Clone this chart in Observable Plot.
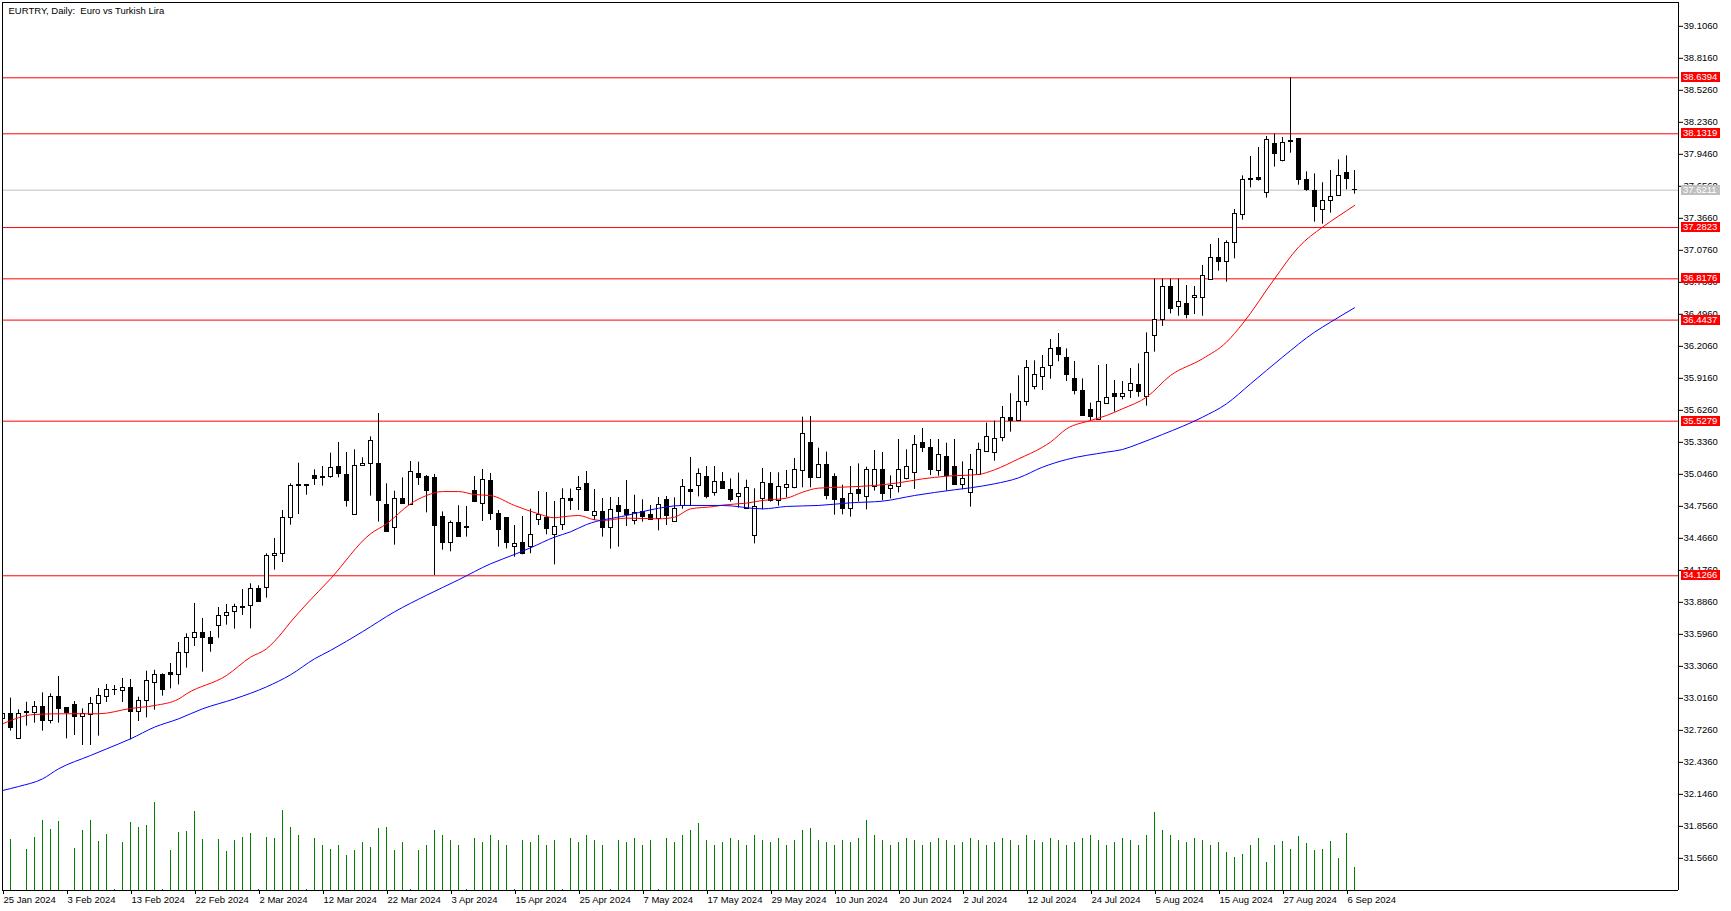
<!DOCTYPE html>
<html><head><meta charset="utf-8">
<script src="https://cdn.jsdelivr.net/npm/d3@7"></script>
<script src="https://cdn.jsdelivr.net/npm/@observablehq/plot@0.6"></script>
<style>
html,body{margin:0;padding:0;background:#fff;overflow:hidden;}
#wrap{position:relative;width:1731px;height:911px;overflow:hidden;}
#wrap svg{position:absolute;left:0;top:0;}
</style></head><body><div id="wrap"></div>
<script>
const title = "EURTRY, Daily:  Euro vs Turkish Lira";
const open = [32.827,32.870,32.649,32.894,32.885,32.942,32.812,33.030,32.924,32.957,32.848,32.867,32.966,33.030,33.090,33.084,33.114,32.891,32.993,33.154,33.232,33.247,33.226,33.428,33.564,33.610,33.567,33.673,33.764,33.800,33.848,33.854,34.008,34.017,34.304,34.326,34.652,34.951,34.948,35.032,35.023,35.020,35.114,35.042,34.679,35.123,35.141,35.144,34.770,34.561,34.824,34.770,35.045,35.026,35.014,34.655,34.425,34.607,34.570,34.899,34.779,34.990,34.688,34.646,34.389,34.428,34.386,34.631,34.646,34.498,34.588,34.827,34.906,34.954,34.667,34.709,34.561,34.755,34.727,34.622,34.709,34.682,34.637,34.809,34.613,34.761,34.900,34.942,35.026,34.875,34.981,34.900,34.842,34.733,34.489,34.818,34.954,34.803,34.924,34.924,35.078,35.332,35.014,35.135,35.023,34.818,34.733,34.900,34.839,34.927,35.087,34.912,34.933,35.008,35.057,35.332,35.286,35.075,35.205,35.117,34.948,34.878,35.041,35.247,35.238,35.374,35.558,35.531,35.700,35.839,35.930,36.026,36.192,36.096,35.914,35.803,35.630,35.540,35.685,35.778,35.745,35.803,35.860,35.745,36.301,36.446,36.748,36.561,36.591,36.645,36.645,36.809,37.002,36.972,37.144,37.392,37.718,37.727,37.597,38.041,37.887,38.071,38.086,37.715,37.618,37.443,37.524,37.570,37.778,37.624];
const high = [32.906,33.018,32.912,32.981,32.987,33.066,33.057,33.214,32.924,32.987,32.921,33.024,33.105,33.141,33.132,33.196,33.187,33.027,33.262,33.271,33.238,33.332,33.522,33.601,33.876,33.740,33.622,33.839,33.866,33.869,34.002,34.054,34.036,34.326,34.465,34.718,34.960,35.147,34.948,35.087,35.117,35.238,35.335,35.244,35.268,35.196,35.386,35.597,34.960,34.893,35.014,35.162,35.156,35.035,35.045,34.706,34.622,34.761,34.755,35.026,35.090,35.054,34.718,34.646,34.582,34.664,34.730,34.890,34.881,34.800,34.915,34.912,35.026,35.072,34.909,34.827,34.836,34.836,34.990,34.857,34.815,34.764,34.836,34.845,34.833,34.999,35.199,35.096,35.117,35.117,35.063,35.005,35.057,34.993,34.915,35.099,35.063,35.060,35.081,35.190,35.564,35.570,35.283,35.247,35.051,34.948,35.117,35.141,35.111,35.262,35.244,35.032,35.362,35.268,35.398,35.461,35.362,35.362,35.328,35.362,35.159,35.226,35.328,35.510,35.528,35.661,35.776,35.939,36.078,36.075,36.123,36.268,36.322,36.183,36.069,35.911,35.691,36.032,36.041,35.896,35.887,36.005,36.047,36.328,36.815,36.815,36.815,36.815,36.757,36.748,36.939,37.129,37.183,37.162,37.446,37.751,37.926,38.008,38.107,38.129,38.098,38.639,38.086,37.787,37.769,37.688,37.799,37.896,37.932,37.799];
const low = [32.800,32.719,32.649,32.764,32.791,32.719,32.785,32.791,32.649,32.679,32.589,32.589,32.673,32.978,33.042,32.978,32.640,32.806,32.839,32.909,33.036,33.102,33.138,33.290,33.486,33.253,33.434,33.561,33.679,33.643,33.767,33.646,33.888,33.924,34.178,34.247,34.585,34.682,34.857,34.945,34.939,35.011,35.014,34.749,34.679,35.117,34.848,34.613,34.519,34.404,34.776,34.770,34.945,34.697,34.129,34.359,34.344,34.477,34.477,34.794,34.619,34.628,34.386,34.371,34.295,34.317,34.326,34.582,34.498,34.226,34.537,34.718,34.718,34.709,34.628,34.477,34.368,34.386,34.573,34.588,34.613,34.634,34.534,34.582,34.613,34.730,34.761,34.842,34.824,34.848,34.909,34.794,34.740,34.733,34.416,34.724,34.794,34.758,34.833,34.915,34.924,34.924,35.014,34.815,34.676,34.679,34.658,34.794,34.724,34.894,34.806,34.824,34.878,34.996,34.909,35.244,35.035,35.029,34.894,34.948,34.906,34.749,35.041,35.247,35.165,35.341,35.428,35.531,35.664,35.812,35.806,35.908,36.066,35.887,35.766,35.579,35.531,35.534,35.685,35.609,35.721,35.733,35.745,35.664,36.153,36.386,36.500,36.479,36.455,36.494,36.479,36.803,36.887,36.788,36.999,37.349,37.642,37.703,37.549,37.830,37.878,37.956,37.666,37.612,37.331,37.313,37.413,37.570,37.624,37.585];
const close = [32.870,32.749,32.870,32.882,32.939,32.809,33.030,32.921,32.882,32.845,32.870,32.966,33.039,33.096,33.096,33.111,32.891,32.993,33.169,33.232,33.093,33.226,33.431,33.564,33.610,33.561,33.507,33.764,33.791,33.848,33.836,34.008,33.888,34.307,34.326,34.652,34.942,34.939,34.942,35.005,35.014,35.105,35.048,34.803,35.123,35.144,35.350,34.803,34.519,34.824,34.776,35.069,35.011,34.896,34.576,34.422,34.607,34.477,34.564,34.794,34.996,34.685,34.543,34.422,34.416,34.323,34.498,34.679,34.549,34.570,34.824,34.806,34.924,34.712,34.709,34.558,34.727,34.703,34.682,34.700,34.655,34.634,34.770,34.664,34.733,34.933,34.888,35.045,34.839,34.981,34.912,34.809,34.872,34.924,34.749,34.963,34.800,34.933,34.951,35.087,35.407,35.011,35.132,34.848,34.812,34.733,34.869,34.869,35.087,35.081,34.866,34.936,35.087,35.114,35.316,35.283,35.081,35.223,35.035,34.948,35.005,35.087,35.268,35.386,35.368,35.558,35.525,35.703,36.011,35.948,36.011,36.183,36.126,35.945,35.803,35.579,35.567,35.703,35.739,35.745,35.778,35.866,35.791,36.144,36.446,36.748,36.543,36.609,36.491,36.664,36.845,37.008,36.969,37.138,37.407,37.715,37.709,37.715,38.077,37.950,38.050,38.059,37.709,37.624,37.470,37.524,37.561,37.751,37.724,37.621];
const volume = [0,5100,0,4100,5300,7000,6100,6900,0,4200,6000,7000,4900,5600,100,4800,6800,6300,6500,8800,100,4000,5800,5900,7900,5100,0,5100,3900,5000,5300,5700,100,5300,5200,8000,6300,5500,100,5200,4500,4100,4500,3500,4000,4800,4300,6200,6300,4000,
4800,100,4000,4500,6000,5500,5000,4500,100,5200,4800,5500,5000,4500,100,5000,4800,5500,4500,5000,100,5200,4800,5500,5000,4500,100,5000,4800,5200,4500,5000,100,5200,4800,5500,6000,6700,5000,4500,4800,5200,5000,4500,5500,5000,4800,5200,4500,5000,6000,6200,5000,4800,4500,5000,4800,5200,7000,5500,5000,4500,4800,5200,5000,4500,4800,5200,5000,4500,4800,5200,5000,4500,4800,5200,5000,4500,5500,5000,4800,5200,5000,4500,4800,5200,5500,5000,4500,4800,5200,5000,4500,5500,7800,6000,5500,5000,4800,5200,5000,4500,4800,
3800,3300,3600,4500,5200,2800,4500,4900,4100,5400,4700,4000,4100,4900,3200,5700,2300];
const maRedIdx = [0,4,7,12,16,19,22,23,28,31,33,35,36,38,41,46,48,51,53,55,57,59,61,64,67,69,70,72,74,75,78,82,84,86,89,90,93,95,98,100,102,105,109,112,115,118,122,124,127,130,131,133,136,138,140,143,146,150,153,155,159,162,165,167,169];
const maRedVal = [32.785,32.870,32.876,32.876,32.924,32.951,33.009,33.057,33.223,33.389,33.465,33.616,33.707,33.870,34.099,34.507,34.597,34.779,34.854,34.890,34.890,34.863,34.854,34.764,34.688,34.652,34.661,34.673,34.634,34.628,34.649,34.643,34.658,34.733,34.755,34.767,34.785,34.809,34.830,34.884,34.921,34.930,34.945,34.969,35.005,35.029,35.045,35.087,35.186,35.292,35.338,35.458,35.534,35.579,35.640,35.745,35.942,36.093,36.244,36.410,36.818,37.105,37.286,37.386,37.482];
const maBlueIdx = [0,2,5,7,11,13,16,19,22,25,29,33,36,39,41,45,49,53,57,61,64,66,69,71,73,78,81,85,90,95,98,102,106,110,114,119,121,124,127,130,133,138,140,142,145,150,153,156,160,164,166,169];
const maBlueVal = [32.181,32.217,32.286,32.377,32.498,32.558,32.649,32.755,32.830,32.921,33.011,33.120,33.229,33.374,33.450,33.620,33.800,33.950,34.090,34.235,34.320,34.380,34.477,34.525,34.591,34.673,34.724,34.764,34.764,34.733,34.755,34.764,34.788,34.803,34.854,34.906,34.924,34.960,35.014,35.111,35.180,35.247,35.271,35.322,35.407,35.564,35.685,35.866,36.108,36.334,36.425,36.555];
const levels = [38.6394, 38.1319, 37.2823, 36.8176, 36.4437, 35.5279, 34.1266];
const lastPrice = 37.6211;
const yTicks = [39.106,38.816,38.526,38.236,37.946,37.656,37.366,37.076,36.786,36.496,36.206,35.916,35.626,35.336,35.046,34.756,34.466,34.176,33.886,33.596,33.306,33.016,32.726,32.436,32.146,31.856,31.566];
const xTickIdx = [0,8,16,24,32,40,48,56,64,72,80,88,96,104,112,120,128,136,144,152,160,168];
const xLabels = ["25 Jan 2024","3 Feb 2024","13 Feb 2024","22 Feb 2024","2 Mar 2024","12 Mar 2024","22 Mar 2024","3 Apr 2024","15 Apr 2024","25 Apr 2024","7 May 2024","17 May 2024","29 May 2024","10 Jun 2024","20 Jun 2024","2 Jul 2024","12 Jul 2024","24 Jul 2024","5 Aug 2024","15 Aug 2024","27 Aug 2024","6 Sep 2024"];

const candles = open.map((o, i) => ({i, o, h: high[i], l: low[i], c: close[i]}));
const vols = volume.map((v, i) => ({i, v})).filter(d => d.v > 0);
const redMA = maRedIdx.map((i, k) => ({i, v: maRedVal[k]}));
const blueMA = maBlueIdx.map((i, k) => ({i, v: maBlueVal[k]}));

const FONT = "'Liberation Sans', Arial, sans-serif";
const yDomain = [31.2747, 39.3218];
const xDomain = [0, 209.5];
const common = {
  width: 1731, height: 911,
  marginLeft: 2, marginRight: 53, marginTop: 2, marginBottom: 21,
  style: {fontFamily: FONT, fontSize: "9.5px", background: "transparent", color: "black"}
};

const volChart = Plot.plot({
  ...common,
  x: {domain: xDomain, axis: null, label: null},
  y: {domain: [0, 88800], axis: null, label: null},
  marks: [
    Plot.ruleX(vols, {x: "i", y1: 0, y2: "v", stroke: "#008000", strokeWidth: 1})
  ]
});

const chart = Plot.plot({
  ...common,
  x: {domain: xDomain, axis: null, label: null},
  y: {domain: yDomain, axis: null, label: null},
  marks: [
    Plot.ruleY(levels, {stroke: "#ff0000", strokeWidth: 1}),
    Plot.ruleY([lastPrice], {stroke: "#c0c0c0", strokeWidth: 1}),
    Plot.ruleX(candles, {x: "i", y1: "l", y2: "h", stroke: "black", strokeWidth: 1, clip: true}),
    Plot.rect(candles, {x1: d => d.i - 0.25, x2: d => d.i + 0.25, y1: "o", y2: "c",
      fill: d => d.c >= d.o ? "white" : "black", stroke: "black", strokeWidth: 1,
      shapeRendering: "crispEdges", clip: true}),
    Plot.line(redMA, {x: "i", y: "v", stroke: "#ff0000", strokeWidth: 1, curve: "monotone-x"}),
    Plot.line(blueMA, {x: "i", y: "v", stroke: "#0000ff", strokeWidth: 1, curve: "monotone-x"}),
    Plot.ruleY([yDomain[0]], {stroke: "black"}),
    Plot.ruleY([yDomain[1]], {stroke: "black"}),
    Plot.ruleX([xDomain[0]], {stroke: "black"}),
    Plot.ruleX([xDomain[1]], {stroke: "black"}),
    Plot.axisY(yTicks, {anchor: "right", label: null, tickSize: 4, tickPadding: 1, tickFormat: d => d.toFixed(4),
      textAnchor: "start", fill: "black", stroke: "black"}),
    Plot.axisX(xTickIdx, {anchor: "bottom", label: null, tickSize: 4, tickPadding: 2, tickFormat: d => xLabels[xTickIdx.indexOf(d)],
      textAnchor: "start", dx: 1, fill: "black", stroke: "black"}),
    Plot.text([title], {frameAnchor: "top-left", dx: 6, dy: 5, lineAnchor: "top", textAnchor: "start", fill: "black"})
  ]
});

const wrap = document.getElementById("wrap");
wrap.appendChild(volChart);
wrap.appendChild(chart);

// price labels on the right axis, positioned via the chart's own y scale
const ys = chart.scale("y");
const g = d3.select(chart).append("g")
  .attr("font-family", FONT).attr("font-size", "9.5px").attr("text-anchor", "start");
const tags = levels.map(v => ({v, color: "#ff0000"})).concat([{v: lastPrice, color: "#c0c0c0"}]);
for (const t of tags) {
  const y = Math.round(ys.apply(t.v));
  g.append("rect").attr("x", 1681).attr("y", y - 5).attr("width", 39).attr("height", 10).attr("fill", t.color);
  g.append("text").attr("x", 1683).attr("y", y + 0.5).attr("dominant-baseline", "middle")
    .attr("text-anchor", "start").attr("fill", "white").text(t.v.toFixed(4));
}
</script></body></html>
